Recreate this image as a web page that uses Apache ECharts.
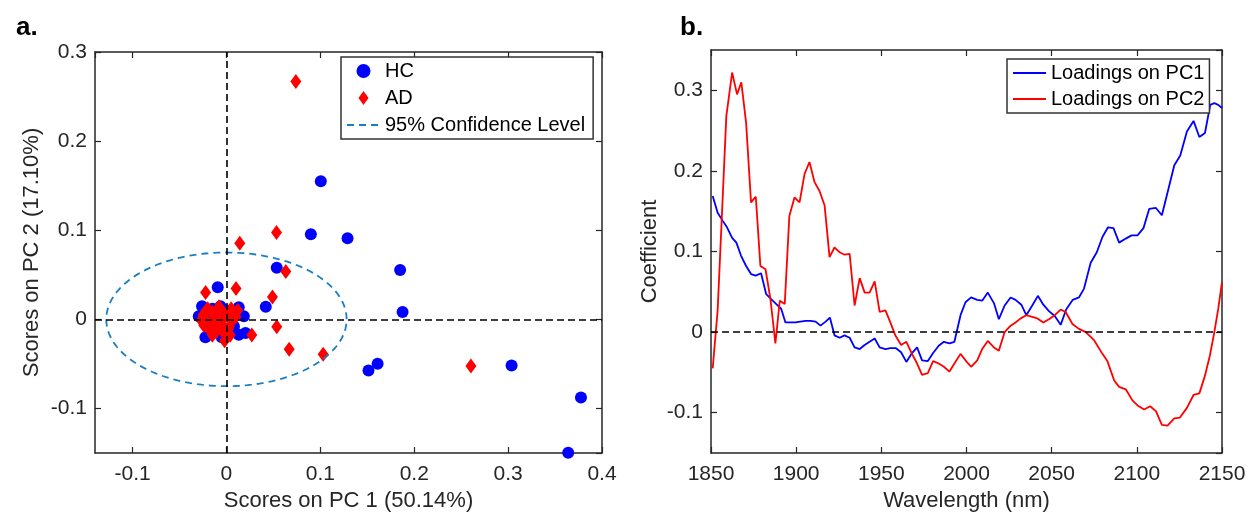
<!DOCTYPE html>
<html>
<head>
<meta charset="utf-8">
<script src="https://cdn.jsdelivr.net/npm/echarts@6/dist/echarts.min.js"></script>
<style>
html,body{margin:0;padding:0;background:#fff;}
#chart{width:1250px;height:517px;}
</style>
</head>
<body>
<div id="chart"></div>
<script>
// ---------- Panel a: PCA scores ----------
const HC_X = [0.1005, 0.0899, 0.129, 0.185, 0.1876, 0.0536, 0.0419, 0.1513, 0.161, 0.3037, 0.3776, 0.364,
  -0.0093, -0.026, -0.0295, -0.0224, -0.0064, 0.0131, 0.0185, 0.0203, 0.0131, -0.001, -0.015, -0.02, -0.01, 0.005, -0.005, 0.0, 0.008, -0.018];
const HC_Y = [0.155, 0.0955, 0.091, 0.0554, 0.0082, 0.058, 0.0142, -0.0573, -0.0498, -0.0517, -0.0876, -0.1498,
  0.036, 0.0146, 0.0034, -0.0202, 0.0146, 0.0135, 0.0034, -0.0154, -0.0172, -0.0154, 0.012, -0.005, -0.01, 0.005, -0.02, 0.01, -0.008, 0.002];
const AD_X = [0.0739, 0.0533, 0.0142, 0.0632, 0.0102, -0.0222, 0.049, 0.0536, 0.0668, 0.103, 0.2604, 0.027,
  -0.025, -0.02, -0.015, -0.01, -0.005, 0.0, 0.005, 0.01, -0.012, -0.005, 0.0, -0.002, 0.003, -0.018, -0.008, 0.006, -0.02, 0.012, -0.015, -0.003,
  -0.027, -0.022, -0.013, -0.007, 0.002, 0.008, -0.024, -0.017, -0.009, 0.004, -0.011, -0.004];
const AD_Y = [0.267, 0.0974, 0.0854, 0.0536, 0.0347, 0.0302, 0.0251, -0.0082, -0.0337, -0.0393, -0.0524, -0.0176,
  0.005, -0.003, 0.008, 0.0, 0.01, 0.005, 0.012, 0.003, -0.008, -0.012, -0.015, -0.024, -0.008, -0.012, 0.014, -0.002, 0.012, 0.01, -0.018, 0.002,
  -0.001, 0.009, 0.004, -0.004, -0.011, 0.007, -0.007, -0.006, 0.006, -0.018, -0.014, -0.007];
// 95% confidence ellipse parameters (centre and semi-axes, in score units)
const ELLIPSE_CENTER = [0, 0];
const ELLIPSE_RADII = [0.128, 0.075];
const PC_X_NAME = 'Scores on PC 1 (50.14%)';
const PC_Y_NAME = 'Scores on PC 2 (17.10%)';

// ---------- Panel b: loadings ----------
const PC1_WL = [1851,1853.9,1856.9,1859.4,1862.4,1864.9,1867.6,1870.6,1873.5,1876.3,1879.4,1882.4,1885.3,1888.2,1891.2,1893.7,1896.7,1899.6,1902.5,1905.5,1908.4,1911.4,1914.3,1917.3,1919.8,1922.5,1925.5,1928.4,1931.4,1934.3,1937.3,1940.2,1943.1,1946.1,1949,1952.4,1955.3,1958.6,1961.6,1964.7,1968,1971,1973.9,1977.3,1980.4,1983.7,1986.7,1990,1992.9,1996.5,1999.4,2002.7,2006.3,2009.2,2012.5,2016.1,2019,2022.4,2025.9,2028.8,2032.2,2035.1,2038.6,2041.9,2045.1,2048.4,2051.8,2055.3,2058.5,2062.4,2066,2069,2072.9,2076.5,2079.8,2083.1,2086.3,2089.6,2093.5,2096.9,2100.4,2103.9,2107.3,2111.2,2114.7,2118,2122,2125.5,2129.4,2133.3,2136.7,2140,2143.1,2145.5,2147.8,2150];
const PC1_VAL = [0.169,0.148,0.138,0.130,0.117,0.111,0.095,0.082,0.072,0.070,0.073,0.047,0.041,0.035,0.029,0.012,0.012,0.012,0.013,0.014,0.014,0.013,0.008,0.013,0.018,-0.004,-0.007,-0.004,-0.007,-0.019,-0.021,-0.016,-0.012,-0.008,-0.019,-0.021,-0.020,-0.020,-0.025,-0.037,-0.026,-0.019,-0.035,-0.036,-0.026,-0.017,-0.012,-0.014,-0.012,0.021,0.037,0.043,0.040,0.039,0.049,0.036,0.016,0.033,0.043,0.040,0.034,0.021,0.033,0.045,0.034,0.026,0.020,0.009,0.028,0.040,0.043,0.054,0.086,0.099,0.118,0.130,0.129,0.111,0.116,0.120,0.120,0.129,0.153,0.154,0.145,0.173,0.207,0.219,0.249,0.262,0.242,0.247,0.282,0.284,0.282,0.278];
const PC2_WL = [1851,1853.9,1859,1862.4,1865.3,1867.8,1870.6,1873.5,1876.3,1879,1882,1884.9,1887.8,1890.4,1893.3,1896,1899,1902,1904.9,1907.8,1910.8,1913.7,1916.7,1919.6,1922.5,1925.5,1928.4,1931.4,1934.3,1937.3,1940.2,1943.1,1946.1,1949,1952.4,1955.3,1958.2,1961.6,1964.7,1968,1971,1973.9,1977.3,1980.4,1983.7,1986.7,1990,1992.9,1996.5,1999.4,2002.7,2006.3,2009.2,2012.5,2016.1,2019,2022.4,2025.9,2028.8,2031.8,2035.1,2038.6,2041.6,2045.1,2048.4,2051.8,2055.3,2058.2,2062.2,2066,2070,2074.9,2079.8,2082.7,2086.7,2089.6,2093.5,2097.5,2100.4,2104.3,2107.8,2111.2,2114.7,2118,2122,2125.3,2129.4,2133.3,2136.7,2140,2142.9,2145.5,2147.8,2150];
const PC2_VAL = [-0.045,0.027,0.268,0.322,0.295,0.310,0.260,0.161,0.168,0.082,0.078,0.041,-0.014,0.039,0.035,0.144,0.167,0.161,0.196,0.211,0.186,0.175,0.157,0.093,0.105,0.099,0.096,0.097,0.033,0.067,0.049,0.049,0.063,0.025,0.027,0.012,-0.004,-0.016,-0.012,-0.027,-0.039,-0.053,-0.051,-0.036,-0.039,-0.043,-0.049,-0.039,-0.027,-0.035,-0.043,-0.035,-0.021,-0.011,-0.019,-0.023,0.000,0.008,0.012,0.017,0.021,0.019,0.017,0.012,0.016,0.021,0.028,0.025,0.010,0.004,0.000,-0.010,-0.027,-0.036,-0.060,-0.068,-0.071,-0.085,-0.091,-0.096,-0.092,-0.098,-0.115,-0.116,-0.107,-0.106,-0.094,-0.078,-0.076,-0.054,-0.029,0.000,0.029,0.062];
const WL_NAME = 'Wavelength (nm)';
const COEF_NAME = 'Coefficient';
const PANEL_LABELS = ['a.', 'b.'];

const zip = (a, b) => a.map((v, i) => [v, b[i]]);
const ellipse = [];
for (let k = 0; k <= 180; k++) {
  const t = 2 * Math.PI * k / 180;
  ellipse.push([ELLIPSE_CENTER[0] + ELLIPSE_RADII[0] * Math.cos(t), ELLIPSE_CENTER[1] + ELLIPSE_RADII[1] * Math.sin(t)]);
}

const FONT = "'Liberation Sans', Arial, sans-serif";
const AX = '#262626';
const axisLine = { show: true, onZero: false, lineStyle: { color: AX, width: 1.5 } };
const tick = { show: true, inside: true, length: 6, lineStyle: { color: AX, width: 1.2 } };
const plain = (v) => String(Math.round(v * 1000) / 1000);
const lbl = (extra) => Object.assign({ color: AX, fontSize: 21, fontFamily: FONT, formatter: plain }, extra);
const nameStyle = { color: AX, fontSize: 22, fontFamily: FONT };
const DIAMOND = 'path://M5,0 L10,7 L5,14 L0,7 Z';
const noSym = { opacity: 0 };

const option = {
  backgroundColor: '#fff',
  animation: false,
  title: [
    { text: PANEL_LABELS[0], left: 11, top: 10, textStyle: { fontSize: 26, fontWeight: 'bold', color: '#000', fontFamily: FONT } },
    { text: PANEL_LABELS[1], left: 675, top: 10, textStyle: { fontSize: 26, fontWeight: 'bold', color: '#000', fontFamily: FONT } }
  ],
  grid: [
    { left: 95, top: 52, width: 507, height: 401 },
    { left: 711, top: 50, width: 511, height: 405 }
  ],
  legend: [
    {
      data: [
        { name: 'HC', icon: 'circle' },
        { name: 'AD', icon: DIAMOND },
        { name: '95% Confidence Level', itemStyle: noSym }
      ],
      orient: 'vertical', left: 341, top: 57,
      itemWidth: 33, itemHeight: 14, itemGap: 7, padding: [4, 8, 4, 5], selectedMode: false,
      borderColor: '#333', borderWidth: 1.5, backgroundColor: '#fff',
      textStyle: { fontSize: 20, color: '#000', fontFamily: FONT }
    },
    {
      data: [
        { name: 'Loadings on PC1', itemStyle: noSym },
        { name: 'Loadings on PC2', itemStyle: noSym }
      ],
      orient: 'vertical', left: 1007, top: 59,
      itemWidth: 33, itemHeight: 13, itemGap: 6, padding: [4, 5, 4, 5], selectedMode: false,
      borderColor: '#333', borderWidth: 1.5, backgroundColor: '#fff',
      textStyle: { fontSize: 20, color: '#000', fontFamily: FONT }
    }
  ],
  xAxis: [
    { gridIndex: 0, type: 'value', min: -0.14, max: 0.4, position: 'bottom', axisLine, axisTick: tick, splitLine: { show: false },
      axisLabel: lbl({ margin: 11, showMinLabel: false }), name: PC_X_NAME, nameLocation: 'middle', nameGap: 37, nameTextStyle: nameStyle },
    { gridIndex: 0, type: 'value', min: -0.14, max: 0.4, position: 'top', axisLine, axisTick: tick, splitLine: { show: false }, axisLabel: { show: false } },
    { gridIndex: 1, type: 'value', min: 1850, max: 2150, interval: 50, position: 'bottom', axisLine, axisTick: tick, splitLine: { show: false },
      axisLabel: lbl({ margin: 11 }), name: WL_NAME, nameLocation: 'middle', nameGap: 37, nameTextStyle: nameStyle },
    { gridIndex: 1, type: 'value', min: 1850, max: 2150, interval: 50, position: 'top', axisLine, axisTick: tick, splitLine: { show: false }, axisLabel: { show: false } }
  ],
  yAxis: [
    { gridIndex: 0, type: 'value', min: -0.15, max: 0.3, position: 'left', axisLine, axisTick: tick, splitLine: { show: false },
      axisLabel: lbl({ margin: 8, showMinLabel: false }), name: PC_Y_NAME, nameLocation: 'middle', nameGap: 52, nameTextStyle: nameStyle },
    { gridIndex: 0, type: 'value', min: -0.15, max: 0.3, position: 'right', axisLine, axisTick: tick, splitLine: { show: false }, axisLabel: { show: false } },
    { gridIndex: 1, type: 'value', min: -0.15, max: 0.35, position: 'left', axisLine, axisTick: tick, splitLine: { show: false },
      axisLabel: lbl({ margin: 8, showMinLabel: false, showMaxLabel: false }), name: COEF_NAME, nameLocation: 'middle', nameGap: 50, nameTextStyle: nameStyle },
    { gridIndex: 1, type: 'value', min: -0.15, max: 0.35, position: 'right', axisLine, axisTick: tick, splitLine: { show: false }, axisLabel: { show: false } }
  ],
  series: [
    {
      name: 'HC', type: 'scatter', xAxisIndex: 0, yAxisIndex: 0, symbol: 'circle', symbolSize: 12, symbolKeepAspect: true,
      itemStyle: { color: '#0000ff', opacity: 1 }, data: zip(HC_X, HC_Y), clip: false,
      markLine: {
        silent: true, symbol: 'none', label: { show: false }, animation: false,
        lineStyle: { color: '#000', type: [7, 4], width: 1.6 },
        data: [{ xAxis: 0 }, { yAxis: 0 }]
      }
    },
    {
      name: 'AD', type: 'scatter', xAxisIndex: 0, yAxisIndex: 0, symbol: 'diamond', symbolSize: [11, 15], symbolKeepAspect: true,
      itemStyle: { color: '#ff0000', opacity: 1 }, data: zip(AD_X, AD_Y), clip: false
    },
    {
      name: '95% Confidence Level', type: 'line', xAxisIndex: 0, yAxisIndex: 0, symbol: 'none', showSymbol: false,
      itemStyle: { color: '#1a7fc1' },
      lineStyle: { color: '#1a7fc1', width: 1.8, type: [7, 5] }, data: ellipse
    },
    {
      name: 'Loadings on PC1', type: 'line', xAxisIndex: 2, yAxisIndex: 2, symbol: 'none', showSymbol: false,
      itemStyle: { color: '#0000ff' },
      lineStyle: { color: '#0000ff', width: 1.8 }, data: zip(PC1_WL, PC1_VAL),
      markLine: {
        silent: true, symbol: 'none', label: { show: false }, animation: false,
        lineStyle: { color: '#000', type: [7, 4], width: 1.6 },
        data: [{ yAxis: 0 }]
      }
    },
    {
      name: 'Loadings on PC2', type: 'line', xAxisIndex: 2, yAxisIndex: 2, symbol: 'none', showSymbol: false,
      itemStyle: { color: '#ff0000' },
      lineStyle: { color: '#ff0000', width: 1.8 }, data: zip(PC2_WL, PC2_VAL)
    }
  ]
};

const chart = echarts.init(document.getElementById('chart'), null, { renderer: 'canvas' });
chart.setOption(option);
</script>
</body>
</html>
